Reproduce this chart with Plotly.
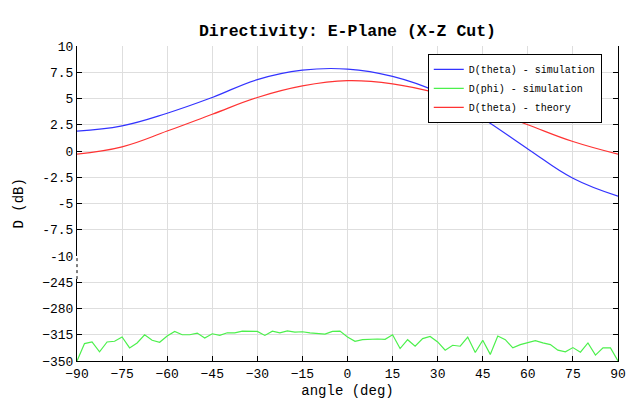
import plotly.graph_objects as go

# ---- data ----
angle_coarse = [-90, -75, -60, -45, -30, -15, 0, 15, 30, 45, 60, 75, 90]
d_theta_sim = [1.9, 2.4, 3.6, 5.1, 6.8, 7.7, 7.8, 7.1, 5.6, 3.1, 0.2, -2.6, -4.3]
d_theta_theory = [-0.3, 0.4, 1.9, 3.5, 5.1, 6.2, 6.7, 6.4, 5.5, 4.1, 2.5, 0.9, -0.3]

angle_fine = [-90 + 2.5 * i for i in range(73)]
d_phi_sim = [
    -350, -326.8, -324.6, -337.7, -324.6, -323.7, -318, -332.5, -326, -315,
    -322.4, -325, -316.7, -310.6, -315, -315, -312.8, -319.4, -313.7, -315.9,
    -312.4, -312.4, -310.2, -310.2, -310.6, -315.9, -310.2, -312.4, -309.8, -311.5,
    -311, -312.4, -313.2, -314.1, -310.6, -310.2, -318.1, -323.7, -321.6, -320.7,
    -320.7, -321.1, -315, -333.4, -321.6, -330.3, -320.2, -317.2, -324.6, -335.6,
    -329, -330.3, -318.1, -338.6, -322.4, -341.2, -316.7, -321.6, -332.5, -328.1,
    -325.9, -322.9, -325.9, -328.1, -335.6, -337.7, -332.1, -338.2, -325.9, -342.1,
    -332.5, -332.5, -350,
]

x_ticks = list(range(-90, 91, 15))
y_upper_ticks = [10, 7.5, 5, 2.5, 0, -2.5, -5, -7.5, -10]
y_lower_ticks = [-245, -280, -315, -350]

FONT = "Liberation Mono"

fig = go.Figure()
fig.add_trace(go.Scatter(x=angle_coarse, y=d_theta_sim, mode="lines",
                         line=dict(color="#3333ff", width=1.2, shape="spline", smoothing=1.2),
                         name="D(theta) - simulation", xaxis="x", yaxis="y"))
fig.add_trace(go.Scatter(x=angle_fine, y=d_phi_sim, mode="lines",
                         line=dict(color="#4cf04c", width=1.2),
                         name="D(phi) - simulation", xaxis="x", yaxis="y2"))
fig.add_trace(go.Scatter(x=angle_coarse, y=d_theta_theory, mode="lines",
                         line=dict(color="#ff3333", width=1.2, shape="spline", smoothing=1.2),
                         name="D(theta) - theory", xaxis="x", yaxis="y"))

axis_common = dict(showline=True, linecolor="black", linewidth=1,
                   gridcolor="#dedede", gridwidth=1, zeroline=False,
                   ticks="inside", ticklen=5, tickcolor="black",
                   tickfont=dict(family=FONT, size=13, color="black"))

fig.update_layout(
    width=632, height=410,
    margin=dict(l=69, r=22, t=38, b=57),
    paper_bgcolor="white", plot_bgcolor="white",
    font=dict(family=FONT, color="black"),
    title=dict(text="<b>Directivity: E-Plane (X-Z Cut)</b>", x=0.5, xref="paper",
               xanchor="center", y=1 - 22 / 410, yref="container", yanchor="middle",
               font=dict(family=FONT, size=16.5, color="black")),
    xaxis=dict(range=[-90, 90], tickvals=x_ticks, anchor="y2",
               title=dict(text="angle (deg)", font=dict(family=FONT, size=14), standoff=4),
               **axis_common),
    xaxis2=dict(range=[-90, 90], tickvals=x_ticks, overlaying="x", side="top",
                anchor="y", showticklabels=False, showgrid=False, showline=True,
                linecolor="black", linewidth=1, ticks="inside", ticklen=5,
                tickcolor="black", zeroline=False),
    yaxis=dict(domain=[4 / 12, 1], range=[-10, 10], tickvals=y_upper_ticks,
               ticktext=[str(v) if v != int(v) else str(int(v)) for v in y_upper_ticks],
               mirror="ticks", **axis_common),
    yaxis2=dict(domain=[0, 4 / 12], range=[-350, -210], tickvals=y_lower_ticks,
                mirror="ticks", **axis_common),
    showlegend=True,
    legend=dict(x=0.97, y=0.975, xanchor="right", yanchor="top",
                bgcolor="white", bordercolor="black", borderwidth=1,
                font=dict(family=FONT, size=10, color="black"),
                tracegroupgap=0, itemwidth=30),
    annotations=[dict(text="D (dB)", xref="paper", yref="paper", x=-0.109, y=0.5,
                      xanchor="center", yanchor="middle",
                      textangle=-90, showarrow=False,
                      font=dict(family=FONT, size=14, color="black"))],
    shapes=[
        dict(type="line", xref="paper", yref="paper", x0=0, x1=0, y0=3 / 12 + 0.01,
             y1=4 / 12, line=dict(color="white", width=2)),
        dict(type="line", xref="paper", yref="paper", x0=0, x1=0, y0=3 / 12 + 0.01,
             y1=4 / 12, line=dict(color="black", width=1, dash="dot")),
    ],
)

fig.write_html("out.html")
